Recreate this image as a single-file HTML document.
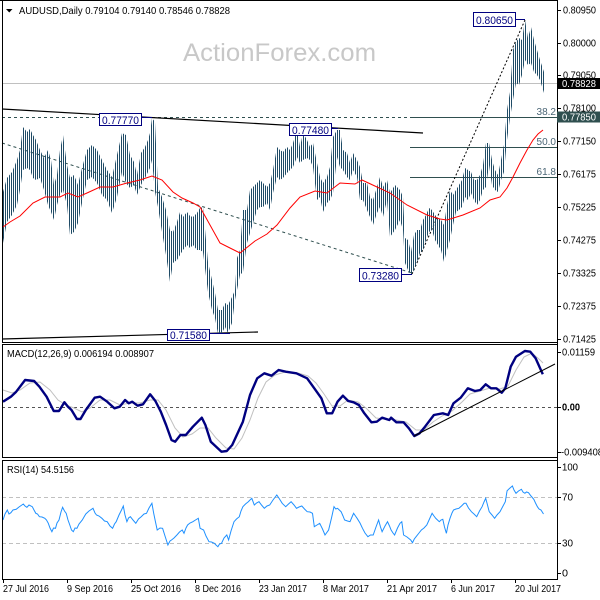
<!DOCTYPE html>
<html><head><meta charset="utf-8">
<style>
html,body{margin:0;padding:0;background:#fff}
svg{display:block}
text{font-family:"Liberation Sans",sans-serif}
</style></head>
<body>
<svg width="600" height="600" viewBox="0 0 600 600" xmlns="http://www.w3.org/2000/svg">
<defs>
<pattern id="hatch" patternUnits="userSpaceOnUse" x="1" y="0" width="2" height="600">
<rect x="0" y="0" width="1" height="600" fill="#1f4b66"/>
</pattern>
</defs>
<rect width="600" height="600" fill="#fff"/>

<!-- watermark -->
<text x="183" y="61" font-size="25" fill="#c8c8c8" textLength="193" lengthAdjust="spacingAndGlyphs">ActionForex.com</text>

<!-- header -->
<polygon points="6,9 12.5,9 9.25,12.5" fill="#000"/>
<text x="19" y="14" font-size="10" fill="#000" textLength="211" lengthAdjust="spacingAndGlyphs">AUDUSD,Daily  0.79104 0.79140 0.78546 0.78828</text>

<!-- main panel reference lines -->
<line x1="2" y1="83.5" x2="557" y2="83.5" stroke="#c0c0c0" stroke-width="1"/>
<line x1="2" y1="117.5" x2="557" y2="117.5" stroke="#2f4f4f" stroke-width="1" stroke-dasharray="3,3"/>
<line x1="410" y1="117.5" x2="557" y2="117.5" stroke="#2f4f4f" stroke-width="1"/>
<line x1="410" y1="147.5" x2="557" y2="147.5" stroke="#2f4f4f" stroke-width="1"/>
<line x1="410" y1="177.5" x2="557" y2="177.5" stroke="#2f4f4f" stroke-width="1"/>
<text x="556" y="115" font-size="10" fill="#4a6575" text-anchor="end">38.2</text>
<text x="556" y="145" font-size="10" fill="#4a6575" text-anchor="end">50.0</text>
<text x="556" y="175" font-size="10" fill="#4a6575" text-anchor="end">61.8</text>

<!-- trend lines -->
<line x1="2" y1="109" x2="423" y2="133" stroke="#000" stroke-width="1.2"/>
<line x1="2" y1="339" x2="258" y2="332" stroke="#000" stroke-width="1.2"/>
<line x1="2" y1="143" x2="412" y2="273" stroke="#2f4f4f" stroke-width="1" stroke-dasharray="3,3"/>
<line x1="412" y1="274" x2="525" y2="20" stroke="#000" stroke-width="1" stroke-dasharray="2,2"/>

<!-- bars (hatched envelope) -->
<polygon fill="url(#hatch)" points="3,192 7,178 12,172 17,160 20,150 23,127 27,132 30,129 33,135 36,140 40,150 44,158 48,150 51,160 54,185 57,175 60,150 63,135 67,165 70,178 74,175 78,185 82,168 87,150 92,145 97,150 102,160 107,170 112,177 117,155 122,133 126,135 130,155 134,162 137,175 141,153 145,147 148,140 150,133 152,118 155,122 158,187 162,197 166,210 170,230 173,232 177,222 180,212 183,217 187,212 190,216 193,217 197,213 200,208 203,207 208,262 212,280 215,293 218,310 222,310 225,303 228,305 232,297 235,290 237,258 240,250 243,210 247,210 250,190 253,187 257,183 260,180 263,183 267,187 270,183 273,170 277,147 280,150 283,152 287,147 290,150 293,143 297,130 300,147 303,133 307,140 310,147 313,143 317,163 320,177 323,183 327,177 330,167 333,137 337,130 340,130 343,150 347,153 350,163 353,153 357,160 360,167 363,183 367,183 370,197 373,200 377,187 380,177 383,187 387,180 390,193 395,185 400,190 403,197 405,238 408,240 411,252 414,235 417,230 420,230 423,220 426,215 429,208 432,210 435,215 438,218 441,220 444,225 447,205 450,190 453,195 456,190 459,185 462,180 465,168 468,170 471,172 474,180 477,180 480,175 483,165 486,143 489,143 492,160 495,170 498,175 501,160 504,145 507,110 510,92 513,50 516,42 519,38 522,40 525,20 528,38 531,27 534,40 537,50 540,60 544,72 544,93 540,80 537,75 534,72 531,63 528,65 525,60 522,75 519,85 516,83 513,100 510,118 507,140 504,172 501,180 498,192 495,190 492,185 489,165 486,187 483,190 480,200 477,205 474,200 471,193 468,200 465,197 462,207 459,210 456,212 453,225 450,240 447,250 444,262 441,250 438,245 435,240 432,230 429,232 426,240 423,250 420,253 417,262 414,270 411,275 408,270 405,263 403,230 400,220 395,230 390,237 387,200 383,217 380,207 377,213 373,225 370,217 367,210 363,200 360,200 357,177 353,170 350,180 347,177 343,170 340,167 337,157 333,193 330,200 327,203 323,212 320,197 317,200 313,167 310,160 307,158 303,160 300,163 297,157 293,167 290,170 287,173 283,178 280,180 277,177 273,193 270,210 267,203 263,207 260,207 257,210 253,223 250,233 247,243 243,272 240,275 237,290 235,300 232,323 228,333 225,327 222,333 218,334 215,318 212,310 208,292 203,252 200,250 197,250 193,245 190,248 187,245 183,250 180,255 177,260 173,263 170,282 166,255 162,232 158,207 155,192 152,160 150,168 148,172 145,178 141,185 137,195 134,185 130,188 126,183 122,172 117,197 112,213 107,200 102,195 97,183 92,177 87,180 82,203 78,223 74,232 70,235 67,205 63,190 60,195 57,205 54,220 51,212 48,205 44,190 40,178 36,180 33,178 30,170 27,168 23,170 20,190 17,205 12,215 7,222 3,243"/>

<!-- MA -->
<polyline fill="none" stroke="#ff0000" stroke-width="1" points="3,227 10,222 20,216 33,203 45,197 60,197 68,193 78,197 87,193 100,187 113,187 127,183 140,180 152,176 162,180 173,192 182,198 193,203 200,207 210,225 220,243 230,248 240,253 255,241 267,234 277,225 290,208 300,197 315,191 327,193 340,183 355,184 362,180 377,187 390,193 407,205 427,215 440,219 447,220 463,215 480,208 490,200 500,197 507,188 513,177 520,163 527,150 533,140 538,134 543,130"/>

<!-- label boxes -->
<line x1="515" y1="19.5" x2="525" y2="19.5" stroke="#000080"/>
<rect x="473.5" y="12.5" width="42" height="14" fill="#fff" stroke="#000080"/>
<text x="476" y="24" font-size="11" fill="#000080" textLength="37" lengthAdjust="spacingAndGlyphs">0.80650</text>

<line x1="142" y1="117.5" x2="152" y2="117.5" stroke="#000080"/>
<rect x="99.5" y="113.5" width="42" height="12" fill="#fff" stroke="#000080"/>
<text x="102" y="124" font-size="11" fill="#000080" textLength="37" lengthAdjust="spacingAndGlyphs">0.77770</text>

<line x1="332" y1="128.5" x2="338" y2="128.5" stroke="#000080"/>
<rect x="289.5" y="123.5" width="42" height="12" fill="#fff" stroke="#000080"/>
<text x="292" y="134" font-size="11" fill="#000080" textLength="37" lengthAdjust="spacingAndGlyphs">0.77480</text>

<line x1="401" y1="274.5" x2="412" y2="274.5" stroke="#000080"/>
<rect x="359.5" y="268.5" width="42" height="13" fill="#fff" stroke="#000080"/>
<text x="362" y="279.5" font-size="11" fill="#000080" textLength="37" lengthAdjust="spacingAndGlyphs">0.73280</text>

<line x1="209" y1="333.5" x2="230" y2="333.5" stroke="#000080"/>
<rect x="167.5" y="329.5" width="42" height="11" fill="#fff" stroke="#000080"/>
<text x="170" y="339" font-size="11" fill="#000080" textLength="37" lengthAdjust="spacingAndGlyphs">0.71580</text>

<!-- MACD panel -->
<line x1="2" y1="407.5" x2="557" y2="407.5" stroke="#555" stroke-width="1" stroke-dasharray="3,3"/>
<polyline fill="none" stroke="#c0c0c0" stroke-width="1" points="3,390 12,393 20,390 30,383 40,382 50,390 58,400 66,405 74,408 82,412 90,408 100,400 110,400 120,405 130,403 140,403 150,400 158,400 166,410 175,428 183,437 192,434 200,428 208,428 216,438 226,448 234,449 242,438 250,420 258,398 266,382 275,375 285,372 298,373 308,376 316,383 324,394 332,406 340,406 348,400 358,402 366,408 376,418 386,419 396,420 406,422 416,430 424,430 433,422 442,416 452,411 462,402 470,394 480,391 490,388 500,389 508,386 516,370 524,357 532,353 540,360 543,363"/>
<polyline fill="none" stroke="#000080" stroke-width="2.4" stroke-linejoin="round" points="3,401.7 10.9,396.7 16.2,391.7 25.1,380 34.1,381 39.4,386.7 46.6,396.7 53.7,411 59,411 64.4,402.3 68,406.7 71.5,410 76.9,419 80.5,419 85.8,410 94.7,397.7 100.1,396.7 107.2,401.7 114.4,408.3 119.7,406.7 125.1,400 128.7,403.3 132.2,401.7 137.6,405.7 143,404.3 150.1,394.3 155.4,401 160.8,411.7 166.1,425 171.5,440 175.1,441.7 180.4,435 185.8,435 192.9,426.7 201.8,417.7 205.4,425 210.8,441.7 221.5,451.7 226.8,451 232.2,445 242.9,421.7 250,395 257.2,378.3 264.3,373.3 271.5,375.7 278.6,370 285.7,371.7 296.4,373.3 307.1,378.3 314.3,388.3 321.4,398.3 326.8,413.3 332.2,413.3 337.5,401.7 342.9,395.7 348.2,401 353.6,402.3 358.9,405 364.3,413.3 371.4,422.3 376.8,421.7 382.1,417.7 389.3,420 391.1,417.7 396.4,422.3 403.6,422.3 408.9,428.3 414.3,436 419.6,433.3 425,426.7 433.9,415 442.8,413.3 448.2,415 453.5,403.3 460.7,397.7 467.8,388.3 474.9,391 480.3,390 485.7,384.3 491,388.3 496.4,388.3 501.7,392.7 505.3,388.3 510.7,366.7 516,356.7 524.9,351 530.3,351.7 535.6,358.3 542.8,374.3"/>
<line x1="414" y1="436" x2="555" y2="364" stroke="#000" stroke-width="1"/>
<text x="7" y="357" font-size="10" fill="#000" textLength="147" lengthAdjust="spacingAndGlyphs">MACD(12,26,9) 0.006194 0.008907</text>

<!-- RSI panel -->
<line x1="2" y1="497.5" x2="557" y2="497.5" stroke="#c0c0c0" stroke-width="1" stroke-dasharray="4,3"/>
<line x1="2" y1="543.5" x2="557" y2="543.5" stroke="#c0c0c0" stroke-width="1" stroke-dasharray="4,3"/>
<polyline fill="none" stroke="#1e90ff" stroke-width="1" points="3,520 5,514 7.3,510 9,514 10.9,512.7 13,510 16.2,509.3 19,507 23.3,504 25,506 26.9,507.3 29,505 32.3,506.7 34,510 35.8,513.3 37.5,514 39.4,516.7 42,517 44.8,518.3 46.5,520 48.3,523.3 50,528 51.9,531.7 53.5,528 55.5,528.3 57,523 59,520 61,512 62.6,507.3 64.5,511 66.2,513.3 68,520 69.8,525 71.5,530 73.3,531.7 75,528 76.9,528.3 79,524 82.3,520 84,517 85.8,514 89,511 93,508.3 95,513 96.5,515 99,516 101.9,518.3 104.5,521 107.2,521.7 110,526 112.6,528.3 114.5,524 116.2,521.7 119,515 121.5,510 123.3,506 125,515 126.9,521.7 128.5,518 130.4,516.7 133,520 135.8,523.3 138.5,519 141.2,516.7 144,514 146.5,513.3 149,508 151.9,503.3 153.7,513.3 155.5,522 157.2,530 160,528 162.6,528.3 165,536 167.9,545 170,541 171.5,540 174,538 176.9,535 179.5,532 182.2,530 184,533.3 186,528 187.6,525 190,523 192.9,521.7 195.5,520 198.3,518.3 200.1,528.3 203.6,530 206,536 209,541.7 211.5,542 214.3,543.3 216,545 217.9,546.7 219.5,544 221.5,543.3 224,538 226.8,535 228.6,540 231,531 234,521.7 236.5,519 239.3,516.7 241,511 242.9,506.7 245.5,504 248.3,501.7 250,500 251.8,498.3 254.3,505 256.5,503 259,501.7 261.5,505 264.3,508.3 267,506 269.7,505 273,500 276.8,495 279.5,499 282.2,503.3 285.7,506.7 288.5,504 291.1,501.7 294,505 296.5,508.3 299,507 301.8,506 304.5,509 307.2,511.7 310,512 312.5,513.3 314.3,526.7 317,525 319.7,523.3 322.5,529 325,535 328.6,530 331.5,518 334,506.7 335.8,509 337.5,508.3 339.3,510 341.1,511.7 343,516 344.6,520 347.5,521 350,521.7 352,517 353.6,513.3 355.5,516 357.1,518.3 360,523 362.5,528.3 365,533 367.9,536.7 370.5,535 373.2,535 376,527 378.6,520 380.5,527 382.1,531.7 385,526 387.5,521.7 389.5,526 391.1,530 393,533 394.6,535 397.5,528 400,523.3 401.8,521.7 403.6,535 407,537 410.7,540 412.5,542.7 414.3,539 416.1,536.7 419,533 421.4,530 424,528 426.8,525 429.5,519 432.1,513.3 434,516 435.7,518.3 437.5,520 439.3,521.7 441,520 442.8,519.3 444.5,527 446.4,533.3 448,525 450,518.3 452,513 453.5,510 456,509 458.9,508.3 461.5,506 464.2,503.3 466,503.3 468.5,508 471.4,511.7 474,514 476.7,516.7 479.5,511 482.1,506.7 484,502 485.7,498.3 487.5,505 489.2,511.7 492,515 494.6,518.3 497,515 500,511.7 502.5,507 505.3,501.7 507.1,490.7 510,488 512.4,486 514,490 516,493.3 518.5,491 521.4,489.3 523,492 524.9,493.3 526.5,492 528.5,492.7 531,496 533.8,499.3 535.5,503 537.4,506.7 539,509 541,510 543.5,514"/>
<text x="7" y="473" font-size="10" fill="#000" textLength="67" lengthAdjust="spacingAndGlyphs">RSI(14) 54.5156</text>

<!-- panel borders -->
<g stroke="#000" stroke-width="1" fill="none">
<line x1="0" y1="0.5" x2="557" y2="0.5"/>
<line x1="2.5" y1="0" x2="2.5" y2="343"/>
<line x1="2" y1="342.5" x2="557" y2="342.5"/>
<line x1="2" y1="344.5" x2="557" y2="344.5"/>
<line x1="2.5" y1="344" x2="2.5" y2="458"/>
<line x1="2" y1="457.5" x2="557" y2="457.5"/>
<line x1="2" y1="460.5" x2="557" y2="460.5"/>
<line x1="2.5" y1="460" x2="2.5" y2="580"/>
<line x1="2" y1="579.5" x2="557" y2="579.5"/>
<line x1="557.5" y1="0" x2="557.5" y2="580"/>
<path d="M557 10.5h4M557 43.5h4M557 75.5h4M557 108.5h4M557 141.5h4M557 174.5h4M557 207.5h4M557 240.5h4M557 273.5h4M557 306.5h4M557 339.5h4M557 352.5h4M557 407.5h4M557 452.5h4M557 467.5h4M557 497.5h4M557 543.5h4M557 573.5h4"/>
<path d="M3.5 579v4M67.5 579v4M131.5 579v4M195.5 579v4M259.5 579v4M323.5 579v4M387.5 579v4M451.5 579v4M515.5 579v4"/>
</g>

<!-- right axis labels -->
<g font-size="10" fill="#000">
<text x="563" y="13.5" textLength="33" lengthAdjust="spacingAndGlyphs">0.80950</text>
<text x="563" y="46.5" textLength="33" lengthAdjust="spacingAndGlyphs">0.80000</text>
<text x="563" y="78.5" textLength="33" lengthAdjust="spacingAndGlyphs">0.79050</text>
<text x="563" y="111.5" textLength="33" lengthAdjust="spacingAndGlyphs">0.78100</text>
<text x="563" y="144.5" textLength="33" lengthAdjust="spacingAndGlyphs">0.77150</text>
<text x="563" y="177.5" textLength="33" lengthAdjust="spacingAndGlyphs">0.76175</text>
<text x="563" y="210.5" textLength="33" lengthAdjust="spacingAndGlyphs">0.75225</text>
<text x="563" y="243.5" textLength="33" lengthAdjust="spacingAndGlyphs">0.74275</text>
<text x="563" y="276.5" textLength="33" lengthAdjust="spacingAndGlyphs">0.73325</text>
<text x="563" y="309.5" textLength="33" lengthAdjust="spacingAndGlyphs">0.72375</text>
<text x="563" y="342.5" textLength="33" lengthAdjust="spacingAndGlyphs">0.71425</text>
<text x="562" y="355.5" textLength="33" lengthAdjust="spacingAndGlyphs">0.01159</text>
<text x="562" y="410.5" textLength="18" lengthAdjust="spacingAndGlyphs" font-weight="bold">0.00</text>
<text x="561" y="455.5" textLength="42" lengthAdjust="spacingAndGlyphs">-0.009408</text>
<text x="562" y="470.5" textLength="16" lengthAdjust="spacingAndGlyphs">100</text>
<text x="562" y="500.5" textLength="11" lengthAdjust="spacingAndGlyphs">70</text>
<text x="562" y="546.5" textLength="11" lengthAdjust="spacingAndGlyphs">30</text>
<text x="562" y="576.5" textLength="6" lengthAdjust="spacingAndGlyphs">0</text>
</g>

<!-- current price boxes -->
<rect x="557" y="78" width="43" height="11" fill="#000"/>
<text x="562" y="87" font-size="10" fill="#fff" textLength="34" lengthAdjust="spacingAndGlyphs">0.78828</text>
<rect x="557" y="111.5" width="43" height="11" fill="#2f4f4f"/>
<text x="562" y="120.5" font-size="10" fill="#fff" textLength="34" lengthAdjust="spacingAndGlyphs">0.77850</text>

<!-- date labels -->
<g font-size="10" fill="#000">
<text x="3" y="592" textLength="46" lengthAdjust="spacingAndGlyphs">27 Jul 2016</text>
<text x="67" y="592" textLength="46" lengthAdjust="spacingAndGlyphs">9 Sep 2016</text>
<text x="131" y="592" textLength="50" lengthAdjust="spacingAndGlyphs">25 Oct 2016</text>
<text x="195" y="592" textLength="46" lengthAdjust="spacingAndGlyphs">8 Dec 2016</text>
<text x="259" y="592" textLength="48" lengthAdjust="spacingAndGlyphs">23 Jan 2017</text>
<text x="323" y="592" textLength="46" lengthAdjust="spacingAndGlyphs">8 Mar 2017</text>
<text x="387" y="592" textLength="50" lengthAdjust="spacingAndGlyphs">21 Apr 2017</text>
<text x="451" y="592" textLength="44" lengthAdjust="spacingAndGlyphs">6 Jun 2017</text>
<text x="515" y="592" textLength="46" lengthAdjust="spacingAndGlyphs">20 Jul 2017</text>
</g>
</svg>
</body></html>
